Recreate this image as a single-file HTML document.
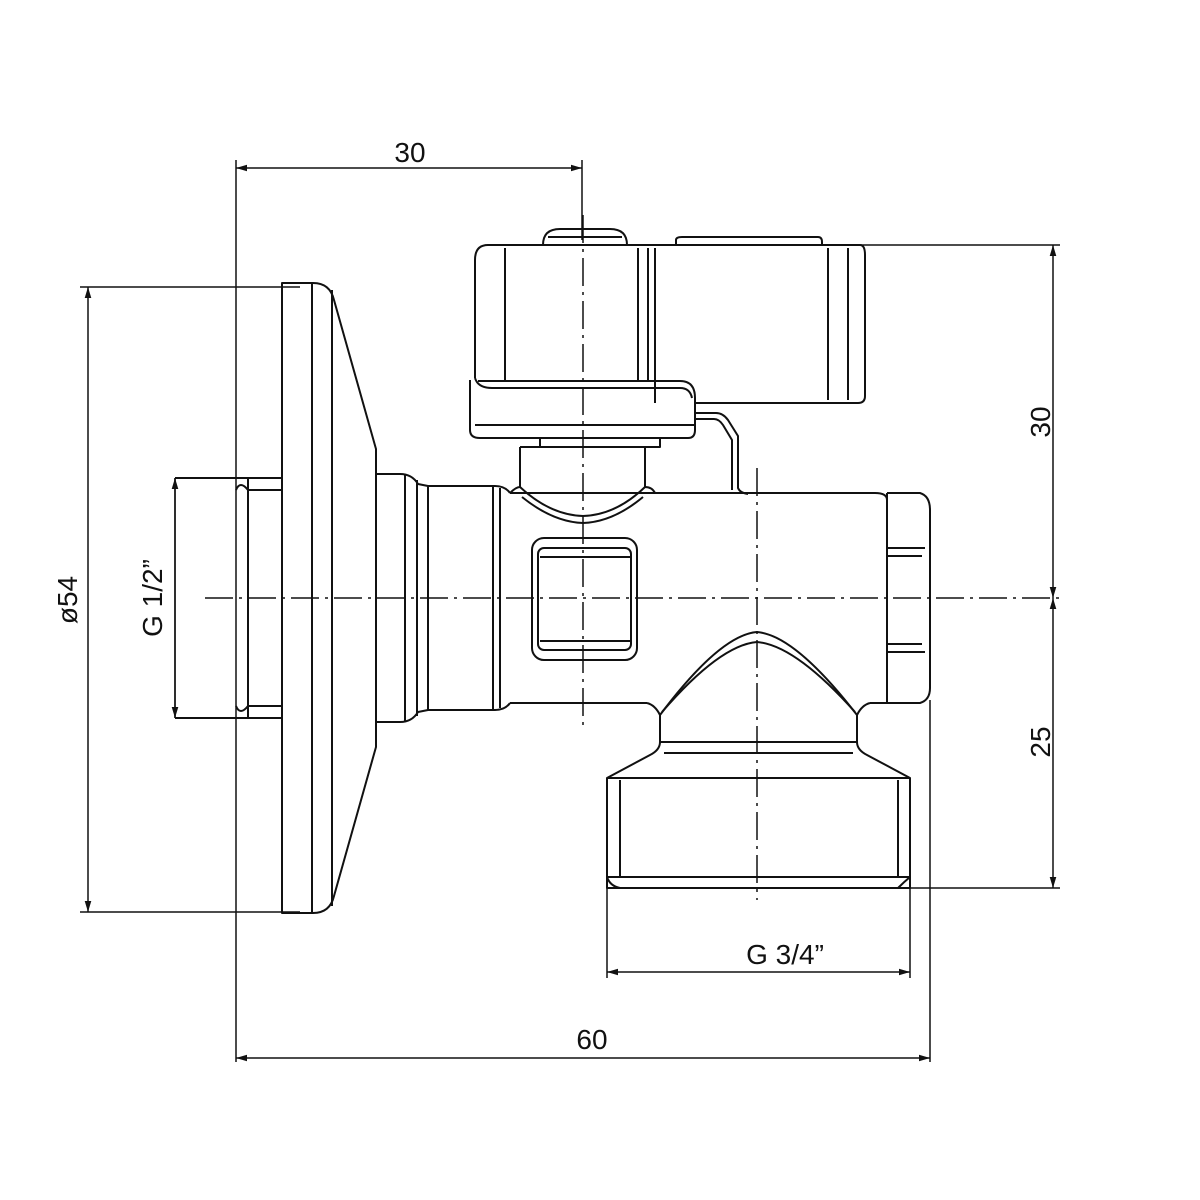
<!DOCTYPE html>
<html><head><meta charset="utf-8"><style>html,body{margin:0;padding:0;background:#fff}svg{display:block}</style></head>
<body>
<svg width="1200" height="1200" viewBox="0 0 1200 1200" xmlns="http://www.w3.org/2000/svg">
<defs>
<marker id="a" viewBox="0 0 10 6" refX="10" refY="3" markerWidth="11" markerHeight="7" markerUnits="userSpaceOnUse" orient="auto-start-reverse"><path d="M0,0 L10,3 L0,6z" fill="#111"/></marker>
</defs>
<g fill="none" stroke="#111" stroke-width="2" stroke-linejoin="round">
<path d="M236,160V1062 M582,160V240 M80,287H300 M80,912H300 M930,700V1062 M820,245H1060 M910,888H1060 M607,888V978 M910,888V978 M175,478V718" stroke-width="1.5"/>
<path d="M236,168H582" marker-start="url(#a)" marker-end="url(#a)" stroke-width="1.5"/>
<path d="M236,1058H930" marker-start="url(#a)" marker-end="url(#a)" stroke-width="1.5"/>
<path d="M607,972H910" marker-start="url(#a)" marker-end="url(#a)" stroke-width="1.5"/>
<path d="M88,287V912" marker-start="url(#a)" marker-end="url(#a)" stroke-width="1.5"/>
<path d="M175,478V718" marker-start="url(#a)" marker-end="url(#a)" stroke-width="1.5"/>
<path d="M1053,245V598" marker-start="url(#a)" marker-end="url(#a)" stroke-width="1.5"/>
<path d="M1053,598V888" marker-start="url(#a)" marker-end="url(#a)" stroke-width="1.5"/>
<path d="M205,598H1060" stroke-dasharray="28,6,3,6" stroke-width="1.5"/>
<path d="M583,215V725" stroke-dasharray="28,6,3,6" stroke-width="1.5"/>
<path d="M757,468V900" stroke-dasharray="28,6,3,6" stroke-width="1.5"/>

<path d="M282,283H313Q330,283 334,300L376,449V747L334,896Q330,913 313,913H282Z"/>
<path d="M312,283V913 M332,290V906"/>
<path d="M175,478H282 M175,718H282 M248,478V718 M236,490Q240,480 248,490H282 M236,706Q240,716 248,706H282"/>
<path d="M376,474H400Q412,474 418,484L428,486H495Q505,486 510,493 M376,722H400Q412,722 418,712L428,710H495Q505,710 510,703"/>
<path d="M405,474V722 M417,480V716 M428,486V710 M493,486V710 M500,488V708"/>
<path d="M510,493H875Q887,493 887,500 M510,703H647 M870,703H887"/>
<path d="M887,493H920Q930,496 930,510V688Q930,700 920,703H887V493"/>
<path d="M887,548H925 M887,556H922 M887,652H925 M887,644H922"/>
<rect x="532" y="538" width="105" height="122" rx="12"/>
<rect x="538" y="548" width="93" height="102" rx="6"/>
<path d="M540,557H630 M540,641H630"/>
<path d="M647,703Q655,705 660,715Q720,635 757,632Q795,635 857,715Q862,705 870,703"/>
<path d="M662,712Q720,645 757,642Q795,645 855,712"/>
<path d="M660,715V742 M857,715V742 M660,742H857 M664,753H853"/>
<path d="M660,742Q660,750 650,755L607,778 M857,742Q857,750 867,755L910,778"/>
<path d="M607,778V888H910V778Z"/>
<path d="M620,780V877 M898,780V877 M607,877H910"/>
<path d="M607,877Q610,886 620,888 M898,888Q904,882 910,877"/>

<path d="M543,245Q543,229 560,229H610Q627,229 627,245"/>
<path d="M548,237H622"/>
<path d="M488,245H860Q865,245 865,255V396Q865,403 858,403H695"/>
<path d="M488,245Q475,245 475,260V378"/>
<path d="M505,248V380 M638,248V380 M648,248V380 M655,248V403 M828,248V400 M848,248V400"/>
<path d="M475,378Q478,388 492,388H680Q690,388 692,398 M470,380V430Q470,438 480,438H688Q695,438 695,430V398Q695,381 680,381H478"/>
<path d="M475,425H695"/>
<path d="M676,245V240Q676,237 682,237H818Q822,237 822,242V245"/>
<path d="M540,438V447H660V438 M520,447H645 M520,447V487 M645,447V487"/>
<path d="M510,493Q516,487 520,487Q550,515 583,516Q616,515 645,487Q652,487 655,493"/>
<path d="M522,497Q553,522 583,523Q613,522 643,497"/>
<path d="M695,413H716Q723,413 728,420L738,436V488Q740,493 748,494 M695,419H714Q719,419 723,425L732,440V490"/>
<path d="M655,493H748"/>
</g>
<g font-family="'Liberation Sans', 'DejaVu Sans', sans-serif" font-size="28" fill="#111" text-anchor="middle">
<text x="410" y="162">30</text>
<text x="592" y="1049">60</text>
<text x="785" y="964">G 3/4”</text>
<text transform="translate(77,600) rotate(-90)">ø54</text>
<text transform="translate(162,598) rotate(-90)">G 1/2”</text>
<text transform="translate(1050,422) rotate(-90)">30</text>
<text transform="translate(1050,742) rotate(-90)">25</text>
</g>
</svg>
</body></html>
